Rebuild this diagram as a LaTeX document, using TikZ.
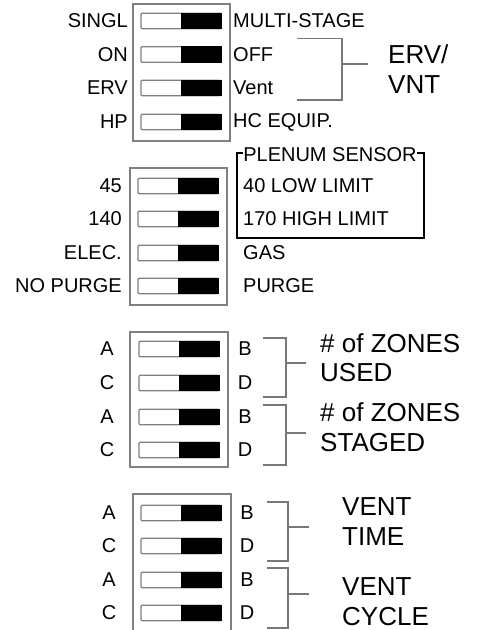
\documentclass[tikz,border=0pt]{standalone}
\usepackage{fontspec}
\setmainfont{Liberation Sans}
\usetikzlibrary{positioning}
\definecolor{boxgray}{HTML}{808080}
\definecolor{brgray}{HTML}{787878}
\tikzset{
  % dip-brytare
  dipbox/.style={draw=boxgray,line width=1.4pt},
  sw/.style={draw=boxgray,fill=white,line width=1.1pt,rounded corners=1pt,
             inner sep=0pt,minimum width=80pt,minimum height=15.5pt},
  swon/.style={fill=black},
  % texter
  lbl/.style={font=\fontsize{20}{22}\selectfont,inner sep=0pt},
  lbll/.style={lbl,anchor=east},
  lblr/.style={lbl,anchor=west},
  big/.style={font=\fontsize{26}{29}\selectfont,inner sep=0pt,anchor=west},
  % klamrar
  brk/.style={draw=brgray,line width=1.4pt},
  plen/.style={draw=black,line width=2pt},
}
\begin{document}
\begin{tikzpicture}[x=1pt,y=-1pt]
\useasboundingbox (0,0) rectangle (482,630);
  % block 1
  \draw[dipbox] (133,4) rectangle (230,141);
  \foreach \y/\l/\r [count=\i] in {21/SINGL/MULTI-STAGE,54.5/ON/OFF,88/ERV/Vent,122/HP/HC EQUIP.} {
    \node[sw] (a\i) at (181,\y) {};
    \fill[swon] (a\i.north) rectangle (a\i.south east);
    \node[lbll] (al\i) at (128,\y) {\l};
    \node[lblr] (ar\i) at (233,\y) {\r};
  }
  \coordinate (ervt) at (297,38.5);
  \coordinate (ervb) at (297,100);
  \coordinate (ervm) at (342,64);
  \draw[brk] (ervt) -| (ervb -| ervm) -- (ervb);
  \node[big] (erv) at (388,54) {ERV/};
  \node[big] (vnt) at (388,85) {VNT};
  \draw[brk] (ervm) -- (368,64);
  % block 2
  \draw[dipbox] (130,168) rectangle (227,305);
  \foreach \y/\l/\r [count=\i] in {186/45/40 LOW LIMIT,219/140/170 HIGH LIMIT,253/ELEC./GAS,286/NO PURGE/PURGE} {
    \node[sw] (b\i) at (178,\y) {};
    \fill[swon] (b\i.north) rectangle (b\i.south east);
    \node[lbll] (bl\i) at (122,\y) {\l};
    \node[lblr] (br\i) at (243,\y) {\r};
  }
  \node[lbl] (plsens) at (330,155) {PLENUM SENSOR};
  \draw[plen] (plsens.west |- 0,153) -- (237,153) -- (237,238) -- (424,238)
    -- (424,153) -- (plsens.east |- 0,153);
  % block 3
  \draw[dipbox] (130,332) rectangle (228,467);
  \foreach \y/\l/\r [count=\i] in {349/A/B,383/C/D,417/A/B,450/C/D} {
    \node[sw] (c\i) at (179,\y) {};
    \fill[swon] (c\i.north) rectangle (c\i.south east);
    \node[lbl] (cl\i) at (107,\y) {\l};
    \node[lbl] (cr\i) at (245,\y) {\r};
  }
  \draw[brk] (263,338) -| (286,397) -- (263,397);
  \draw[brk] (286,363) -- (306,363);
  \draw[brk] (263,405) -| (286,465) -- (263,465);
  \draw[brk] (286,433) -- (306,433);
  \node[big] (zu1) at (320,343) {\# of ZONES};
  \node[big] (zu2) at (320,373) {USED};
  \node[big] (zs1) at (320,412) {\# of ZONES};
  \node[big] (zs2) at (320,443) {STAGED};
  % block 4
  \draw[dipbox] (133,634) |- (231,494) -- (231,634);
  \foreach \y/\l/\r [count=\i] in {513/A/B,546/C/D,580/A/B,613/C/D} {
    \node[sw] (d\i) at (181,\y) {};
    \fill[swon] (d\i.north) rectangle (d\i.south east);
    \node[lbl] (dl\i) at (109,\y) {\l};
    \node[lbl] (dr\i) at (247,\y) {\r};
  }
  \draw[brk] (267,502) -| (288,561) -- (267,561);
  \draw[brk] (288,527) -- (309,527);
  \draw[brk] (267,568) -| (288,628) -- (267,628);
  \draw[brk] (288,594) -- (309,594);
  \node[big] (vt1) at (342,507) {VENT};
  \node[big] (vt2) at (342,537) {TIME};
  \node[big] (vc1) at (342,587) {VENT};
  \node[big] (vc2) at (342,617) {CYCLE};
\end{tikzpicture}
\end{document}
